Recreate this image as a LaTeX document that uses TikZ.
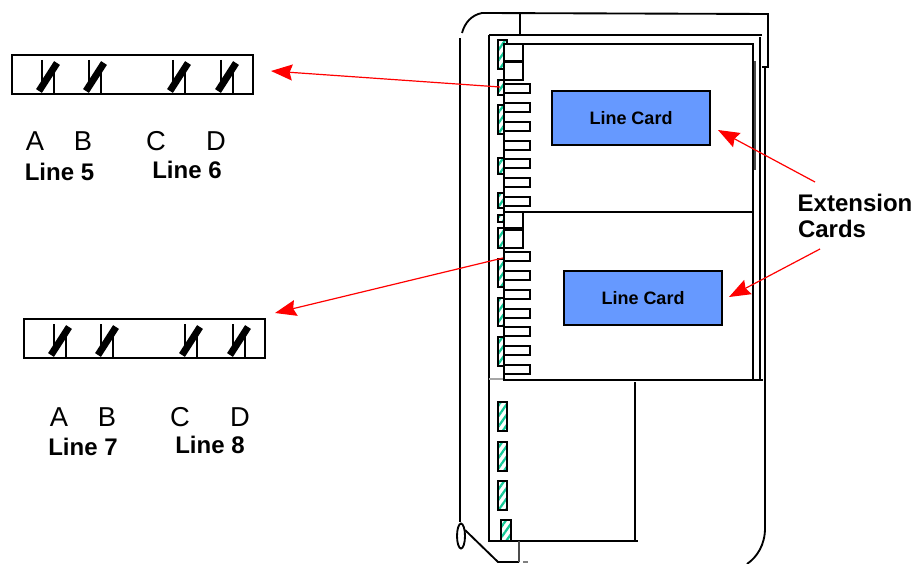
\documentclass[tikz,border=0pt]{standalone}
\usepackage{fontspec}
\setmainfont{Liberation Sans}
\usetikzlibrary{patterns.meta}
\usetikzlibrary{arrows.meta}
\definecolor{cardblue}{RGB}{102,153,255}
\definecolor{hatchgreen}{RGB}{20,200,150}
\tikzset{
    wall/.style={draw=black,line width=1.4pt},
    hatchbar/.style={draw=black,line width=1.4pt,pattern={Lines[angle=55,distance=4.5pt,line width=1.7pt]},pattern color=hatchgreen},
    slotbox/.style={draw=black,fill=white,line width=1.4pt},
    linecard/.style={draw=black,fill=cardblue,line width=1.4pt,minimum width=119pt,minimum height=40pt,inner sep=0pt,font=\fontsize{13.5}{16}\bfseries\selectfont},
    pointer/.style={draw=red,line width=0.9pt,-{Stealth[length=16pt,width=12pt,inset=2pt]}},
    portletter/.style={inner sep=0pt,font=\fontsize{20.5}{24}\selectfont},
    boldlabel/.style={inner sep=0pt,font=\fontsize{18}{21}\bfseries\selectfont}
}
\begin{document}
\begin{tikzpicture}[x=0.75pt,y=-0.75pt]
    \useasboundingbox (0,0) rectangle (919,563);
    % housing
    \draw[wall](460,522)--(460,38);
    \draw[wall](462,33) .. controls (465,22) and (472,15) .. (482,13)--(768,14)--(768,67)--(762,67);
    \draw[wall](520,13)--(520,35);
    \draw[wall](489,35)--(762,35);
    \draw[wall](489,35)--(489,541)--(638,541);
    \draw[wall](765,67)--(765,528) .. controls (765,545) and (757,557) .. (747,564);
    \draw[wall](635,382)--(635,541);
    \draw[wall](760,37)--(760,380);
    \draw[draw=black!70,line width=1.8pt](755,61)--(755,170);
    \draw[draw=black!35,line width=1pt](489,379)--(504,379);
    \draw[wall](461,536) ellipse (4 and 12.5);
    \draw[wall](465,530)--(498,562)--(519,562);
    \draw[draw=black!70,line width=1pt](519,541)--(519,562);
    \draw[draw=black!50,line width=0.8pt](523,562)--(528,562);
    % hatched bars
    \foreach \xa/\xb/\ya/\yb in {498/507/40/69,498/504/80/95,498/504/105/134,498/504/158/174,498/504/193/208,498/504/215/222,498/504/228/248,498/504/259/287,498/504/298/326,498/504/337/366,498/507/402/431,498/507/442/471,498/507/481/510,501/511/520/541}{
        \draw[hatchbar](\xa,\ya) rectangle (\xb,\yb);
    }
    % cards
    \draw[wall](504,44)--(753,44)--(753,379);
    \draw[wall](504,212)--(753,212);
    \draw[wall](504,44)--(504,380)--(763,380);
    % square slots and flat slots
    \foreach \ya/\yb in {44/61,62/80,212/228,230/248}{
        \draw[slotbox](504,\ya) rectangle (523,\yb);
    }
    \foreach \ya in {84,103,122,141,159,178,197,252,271,290,309,327,346,365}{
        \draw[slotbox](504,\ya) rectangle (530,\ya+9);
    }
    \node[linecard] (cardtop) at (631,118) {Line Card};
    \node[linecard] (cardbottom) at (643,298) {Line Card};
    % line strips
    \foreach \dx/\dy in {0/0,12/264}{
        \draw[wall](12+\dx,55+\dy) rectangle (253+\dx,94+\dy);
        \foreach \xa in {42,89,173,221}{
            \draw[black,line width=1pt](\xa+\dx,60+\dy)--(\xa+\dx,88+\dy);
            \draw[black,line width=1pt](\xa+12+\dx,70+\dy)--(\xa+12+\dx,94+\dy);
            \draw[black,line width=5.2pt](\xa-3+\dx,91+\dy)--(\xa+15+\dx,63+\dy);
        }
    }
    \node[portletter] (portA) at (35,141) {A};
    \node[portletter] (portB) at (83,141) {B};
    \node[portletter] (portC) at (156,141) {C};
    \node[portletter] (portD) at (216,141) {D};
    \node[boldlabel] (lineF) at (59.5,172) {Line 5};
    \node[boldlabel] (lineS) at (187,170) {Line 6};
    \node[portletter] (portE) at (59,417) {A};
    \node[portletter] (portF) at (107,417) {B};
    \node[portletter] (portG) at (180,417) {C};
    \node[portletter] (portH) at (240,417) {D};
    \node[boldlabel] (lineG) at (83,447) {Line 7};
    \node[boldlabel] (lineE) at (210,445) {Line 8};
    \node[boldlabel] (extension) at (855,203) {Extension};
    \node[boldlabel] (extcards) at (832,229) {Cards};
    % pointers
    \coordinate (slottop) at (500,87);
    \coordinate (striptop) at (271,71);
    \coordinate (slotbottom) at (503,258);
    \coordinate (stripbottom) at (275,313);
    \coordinate (exttop) at (815,182);
    \coordinate (tiptop) at (718,130);
    \coordinate (extbottom) at (820,249);
    \coordinate (tipbottom) at (729,297);
    \draw[pointer](slottop)--(striptop);
    \draw[pointer](slotbottom)--(stripbottom);
    \draw[pointer](exttop)--(tiptop);
    \draw[pointer](extbottom)--(tipbottom);
\end{tikzpicture}
\end{document}
